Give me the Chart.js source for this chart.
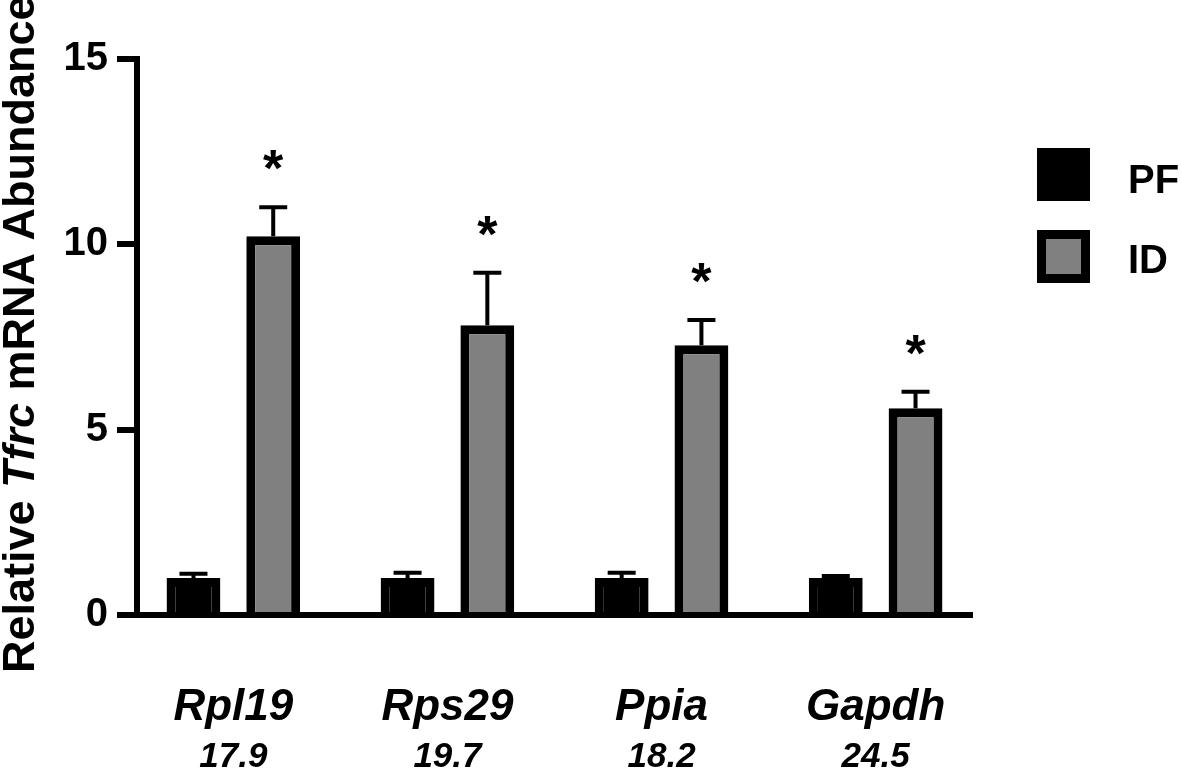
<!DOCTYPE html>
<html>
<head>
<meta charset="utf-8">
<title>Relative Tfrc mRNA Abundance</title>
<script src="https://cdn.jsdelivr.net/npm/chart.js@4.4.1/dist/chart.umd.min.js"></script>
<style>
  html, body { margin: 0; padding: 0; background: #fff; }
  canvas { display: block; }
</style>
</head>
<body>
<canvas id="chart" width="1181" height="778"></canvas>
<script>
// data
const genes = ['Rpl19', 'Rps29', 'Ppia', 'Gapdh'];
const ctValues = ['17.9', '19.7', '18.2', '24.5'];
const pfMeans = [1.0, 1.0, 1.0, 1.0];
const pfErrors = [0.11, 0.14, 0.14, 0.05];
const idMeans = [10.22, 7.82, 7.28, 5.58];
const idErrors = [0.78, 1.41, 0.68, 0.44];
const idSignificant = [true, true, true, true];
const yTicks = [0, 5, 10, 15];

const FONT = "'Liberation Sans', Arial, Helvetica, sans-serif";

// upward-only SEM bars plus the significance stars
const errorBars = {
    id: 'errorBars',
    afterDatasetsDraw(chart) {
        const ctx = chart.ctx;
        const y = chart.scales.y;
        ctx.save();
        ctx.strokeStyle = '#000';
        ctx.fillStyle = '#000';
        ctx.lineWidth = 4;
        chart.data.datasets.forEach((ds, d) => {
            const meta = chart.getDatasetMeta(d);
            meta.data.forEach((bar, i) => {
                const top = y.getPixelForValue(ds.data[i].y + ds.errors[i]);
                ctx.beginPath();
                ctx.moveTo(bar.x, bar.y);
                ctx.lineTo(bar.x, top);
                ctx.moveTo(bar.x - 14, top);
                ctx.lineTo(bar.x + 14, top);
                ctx.stroke();
                if (ds.stars && ds.stars[i]) {
                    ctx.font = 'bold 52px ' + FONT;
                    ctx.textAlign = 'center';
                    ctx.textBaseline = 'alphabetic';
                    const m = ctx.measureText('*');
                    const mid = top - 47;
                    ctx.fillText('*', bar.x, mid + (m.actualBoundingBoxAscent - m.actualBoundingBoxDescent) / 2);
                }
            });
        });
        ctx.restore();
    }
};

// y title with the italic gene name
const yTitle = {
    id: 'yTitle',
    afterDraw(chart) {
        const ctx = chart.ctx;
        const parts = [
            { text: 'Relative ', style: '' },
            { text: 'Tfrc', style: 'italic ' },
            { text: ' mRNA Abundance', style: '' }
        ];
        ctx.save();
        ctx.translate(34, 673);
        ctx.rotate(-Math.PI / 2);
        ctx.fillStyle = '#000';
        ctx.textBaseline = 'alphabetic';
        ctx.textAlign = 'left';
        let x = 0;
        parts.forEach(p => {
            ctx.font = p.style + 'bold 45px ' + FONT;
            ctx.fillText(p.text, x, 0);
            x += ctx.measureText(p.text).width;
        });
        ctx.restore();
    }
};

// legend boxes on the right
const sideLegend = {
    id: 'sideLegend',
    afterDraw(chart) {
        const ctx = chart.ctx;
        const rows = [148, 230];
        const baselines = [193, 273];
        ctx.save();
        chart.data.datasets.forEach((ds, d) => {
            const top = rows[d];
            ctx.fillStyle = ds.borderColor;
            ctx.fillRect(1037, top, 53, 53);
            ctx.fillStyle = ds.backgroundColor;
            ctx.fillRect(1037 + 9, top + 9, 53 - 18, 53 - 18);
            ctx.fillStyle = '#000';
            ctx.font = 'bold 40px ' + FONT;
            ctx.textAlign = 'left';
            ctx.textBaseline = 'alphabetic';
            ctx.fillText(ds.label, 1128, baselines[d]);
        });
        ctx.restore();
    }
};

const toPoints = arr => arr.map((v, i) => ({ x: i, y: v }));
const categoryTicks = scale => { scale.ticks = genes.map((g, i) => ({ value: i })); };

new Chart(document.getElementById('chart'), {
    type: 'bar',
    data: {
        datasets: [{
            label: 'PF',
            data: toPoints(pfMeans),
            errors: pfErrors,
            backgroundColor: '#000000',
            borderColor: '#000000',
            borderWidth: 9
        }, {
            label: 'ID',
            data: toPoints(idMeans),
            errors: idErrors,
            stars: idSignificant,
            backgroundColor: '#808080',
            borderColor: '#000000',
            borderWidth: 9
        }]
    },
    options: {
        responsive: false,
        animation: false,
        devicePixelRatio: 1,
        categoryPercentage: 0.745,
        barPercentage: 0.675,
        layout: { padding: { top: 59, right: 209, bottom: 0, left: 0 } },
        plugins: {
            legend: { display: false },
            tooltip: { enabled: false }
        },
        scales: {
            x: {
                type: 'linear',
                position: 'bottom',
                offset: false,
                min: -0.45,
                max: 3.45,
                afterBuildTicks: categoryTicks,
                afterFit: s => { s.height = 119; },
                grid: { display: false, drawTicks: false, offset: false },
                border: { display: true, color: '#000', width: 6 },
                ticks: {
                    callback: (v, i) => genes[i],
                    color: '#000',
                    padding: 66,
                    maxRotation: 0,
                    autoSkip: false,
                    font: { family: FONT, size: 44, style: 'italic', weight: 'bold' }
                }
            },
            x2: {
                type: 'linear',
                position: 'bottom',
                offset: false,
                min: -0.45,
                max: 3.45,
                afterBuildTicks: categoryTicks,
                afterFit: s => { s.height = 44; },
                grid: { display: false, drawTicks: false, offset: false },
                border: { display: false },
                ticks: {
                    callback: (v, i) => ctValues[i],
                    color: '#000',
                    padding: 2,
                    maxRotation: 0,
                    autoSkip: false,
                    font: { family: FONT, size: 35, style: 'italic', weight: 'bold' }
                }
            },
            y: {
                min: 0,
                max: 15,
                afterBuildTicks: s => { s.ticks = yTicks.map(v => ({ value: v })); },
                afterFit: s => { s.width = 137; },
                grid: { drawOnChartArea: false, drawTicks: true, tickLength: 20, lineWidth: 6, color: '#000' },
                border: { color: '#000', width: 6 },
                ticks: {
                    color: '#000',
                    padding: 9,
                    font: { family: FONT, size: 40, weight: 'bold' }
                }
            }
        }
    },
    plugins: [errorBars, yTitle, sideLegend]
});
</script>
</body>
</html>
